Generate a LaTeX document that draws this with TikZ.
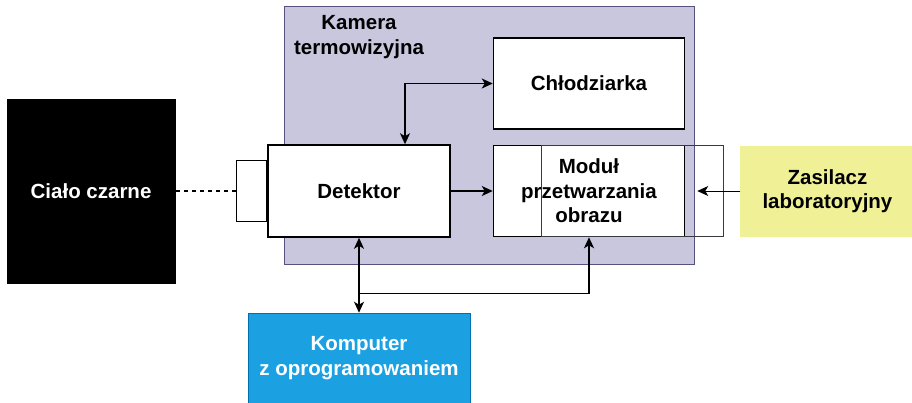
\documentclass[tikz,border=0pt]{standalone}
\usepackage{fontspec}
\setmainfont{Liberation Sans}
\usepackage{xcolor}
\usetikzlibrary{arrows.meta,positioning,calc,backgrounds}
\definecolor{kamfill}{RGB}{200,199,222}
\definecolor{kamdraw}{RGB}{86,81,126}
\definecolor{zasfill}{RGB}{240,240,150}
\definecolor{kompfill}{RGB}{27,161,226}
\definecolor{kompdraw}{RGB}{0,110,175}
\definecolor{ramkadraw}{RGB}{54,57,61}
\tikzset{
  napis/.style={font=\fontsize{20.5}{24.5}\selectfont\bfseries, align=center},
  blok/.style={rectangle, draw=black, fill=white, line width=1.5pt, napis,
               minimum width=182pt, minimum height=92pt, inner sep=0pt},
  kamera/.style={rectangle, draw=kamdraw, fill=kamfill, line width=1.2pt,
                 minimum width=410pt, minimum height=258pt, inner sep=0pt},
  ramka/.style={rectangle, draw=ramkadraw, line width=1.2pt,
                minimum width=182pt, minimum height=91pt, inner sep=0pt},
  zrodlo/.style={rectangle, fill=black, text=white, napis,
                 minimum width=169pt, minimum height=185pt, inner sep=0pt},
  zasil/.style={rectangle, fill=zasfill, napis,
                minimum width=174pt, minimum height=91pt, inner sep=0pt},
  komp/.style={rectangle, draw=kompdraw, fill=kompfill, text=white, napis,
               line width=1pt, minimum width=222pt, minimum height=90pt, inner sep=0pt},
  strzalka/.style={-{Stealth[length=11pt,width=10pt,inset=3pt]}, line width=1.5pt},
  strzalka2/.style={{Stealth[length=11pt,width=10pt,inset=3pt]}-{Stealth[length=11pt,width=10pt,inset=3pt]}, line width=1.5pt},
  przerywana/.style={dash pattern=on 4pt off 4pt, line width=1.2pt}
}
\begin{document}
\begin{tikzpicture}[x=1pt, y=1pt, node distance=15pt and 42pt]
  \useasboundingbox (0,0) rectangle (912,-402);
  % Kamera
  \node[blok] (det) at (359,-191) {Detektor};
  \node[blok, minimum width=30pt, minimum height=61pt, left=0pt of det] (oslona) {};
  \node[blok, minimum width=191pt, minimum height=91pt, right=of det] (modul) {};
  \node[ramka, anchor=west] (nakladka) at ($(modul.west)+(48,0)$) {};
  \node[napis] at (modul) {Moduł\\przetwarzania\\obrazu};
  \node[blok, minimum width=191pt, minimum height=91pt, above=of modul] (chlodz) {Chłodziarka};
  \begin{scope}[on background layer]
    \node[kamera, anchor=north east] (kam) at ($(chlodz.north east)+(10,31)$) {};
  \end{scope}
  \node[napis, inner sep=0pt, anchor=north] (tytul) at ($(kam.north west)+(75,-9)$) {Kamera\\termowizyjna};

  % Otoczenie
  \node[zrodlo, left=60pt of oslona] (cialo) {Ciało czarne};
  \node[zasil, right=55pt of modul] (zas) {Zasilacz\\laboratoryjny};
  \node[komp, below=75pt of det] (komp) {Komputer\\z oprogramowaniem};

  \draw[przerywana] (cialo.east) -- (oslona.west);
  \draw[strzalka] (det.east) -- (det.east -| modul.west);
  \draw[strzalka2] (chlodz.west) -| ([xshift=46pt]det.north);
  \draw[strzalka2] (det.south) -- (komp.north);
  \coordinate (rozg) at ($(det.south)!0.74!(komp.north)$);
  \draw[strzalka] (rozg) -| (modul.south);
  \draw[strzalka, line width=1pt] (zas.west) -- ([xshift=2pt]zas.west -| kam.east);
\end{tikzpicture}
\end{document}
